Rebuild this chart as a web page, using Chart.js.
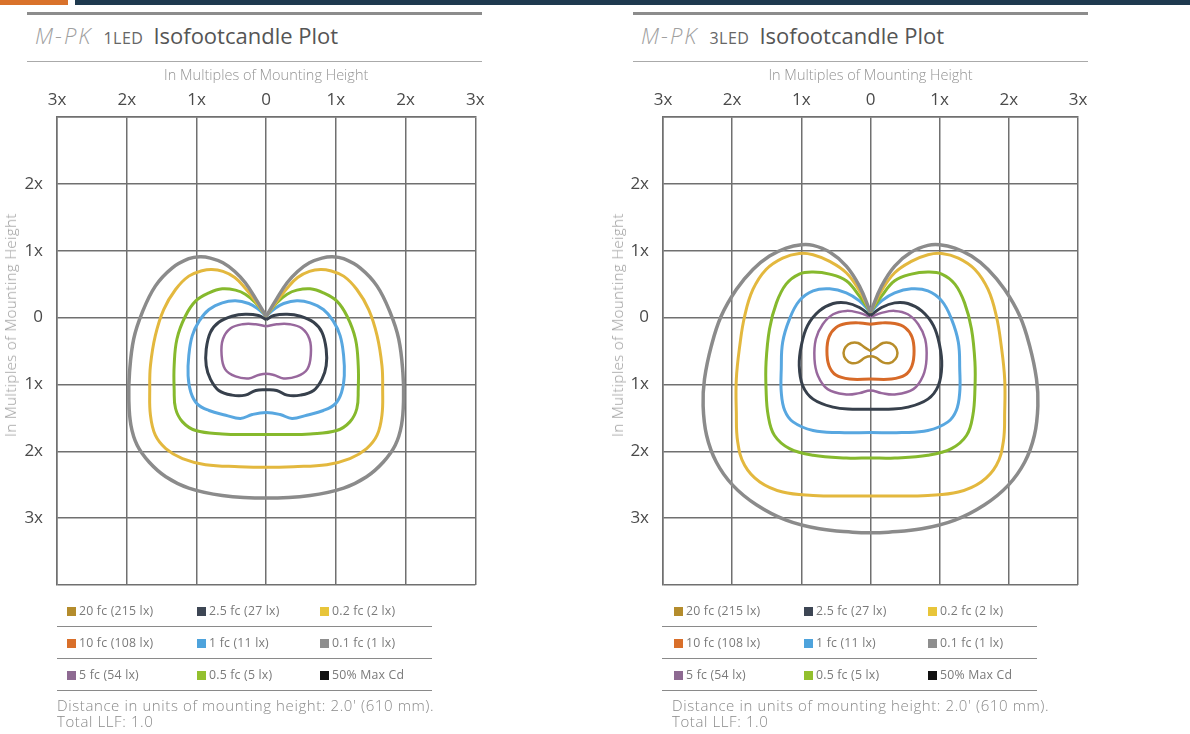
<!DOCTYPE html>
<html>
<head>
<meta charset="utf-8">
<script src="https://cdn.jsdelivr.net/npm/chart.js@4.4.1/dist/chart.umd.min.js"></script>
<style>
  body { margin: 0; background: #fff; font-family: "Open Sans", sans-serif; }
  #page { position: relative; width: 1190px; height: 734px; overflow: hidden; }
  .bar { position: absolute; top: 0; height: 5px; }
  .hline { position: absolute; background: #8c8c8c; }
  .title { position: absolute; top: 20px; font-size: 22px; color: #555; white-space: nowrap; }
  .title .mpk { font-style: italic; color: #a0a0a0; font-weight: 300; letter-spacing: 2px; }
  .title .led { font-size: 16px; color: #666; margin: 0 10px 0 11px; letter-spacing: 0.5px; }
  .box { position: absolute; top: 60px; width: 490px; height: 540px; }
  .ytitle { position: absolute; font-size: 15px; color: #9a9a9a; white-space: nowrap; font-weight: 300;
            letter-spacing: 0.4px; transform: translate(-50%, -50%) rotate(-90deg); }
  .legend { position: absolute; top: 595px; width: 375px; font-size: 12.3px; color: #7a7a7a; letter-spacing: 0.2px; }
  .row { height: 31px; border-bottom: 1px solid #8a8a8a; position: relative; }
  .item { position: absolute; top: 0; line-height: 31px; white-space: nowrap; }
  .sw { display: inline-block; width: 9px; height: 9px; margin-right: 3px; vertical-align: -1px; }
  .note { position: absolute; top: 697px; font-size: 15px; color: #8a8a8a; line-height: 16px;
          letter-spacing: 0.6px; font-weight: 300; }
</style>
</head>
<body>
<div id="page">
  <div class="bar" style="left:0;width:68px;background:#d9722b"></div>
  <div class="bar" style="left:75px;width:1115px;background:#1f3a4f"></div>

  <div class="hline" style="left:27px;top:12px;width:455px;height:3px"></div>
  <div class="hline" style="left:27px;top:61px;width:455px;height:1px;background:#aaa"></div>
  <div class="hline" style="left:633px;top:12px;width:455px;height:3px"></div>
  <div class="hline" style="left:633px;top:61px;width:455px;height:1px;background:#aaa"></div>

  <div class="title" style="left:35px"><span class="mpk">M-PK</span><span class="led">1LED</span>Isofootcandle Plot</div>
  <div class="title" style="left:641px"><span class="mpk">M-PK</span><span class="led">3LED</span>Isofootcandle Plot</div>

  <div class="box" style="left:0"><canvas id="chart1"></canvas></div>
  <div class="box" style="left:606px"><canvas id="chart3"></canvas></div>

  <div class="ytitle" style="left:10px;top:325px">In Multiples of Mounting Height</div>
  <div class="ytitle" style="left:617px;top:325px">In Multiples of Mounting Height</div>

  <div class="legend" id="legend1" style="left:57px"></div>
  <div class="legend" id="legend3" style="left:662px"></div>

  <div class="note" style="left:57px">Distance in units of mounting height: 2.0' (610 mm).<br>Total LLF: 1.0</div>
  <div class="note" style="left:672px">Distance in units of mounting height: 2.0' (610 mm).<br>Total LLF: 1.0</div>
</div>

<script>
// tick labels
const xTicks = ['3x', '2x', '1x', '0', '1x', '2x', '3x'];          // -3 .. 3
const yTicks = ['', '3x', '2x', '1x', '0', '1x', '2x', ''];        // -4 .. 3

// legend entries (row by row)
const legendLabels = ['20 fc (215 lx)', '2.5 fc (27 lx)', '0.2 fc (2 lx)',
                      '10 fc (108 lx)', '1 fc (11 lx)', '0.1 fc (1 lx)',
                      '5 fc (54 lx)', '0.5 fc (5 lx)', '50% Max Cd'];
const legendColors = ['#b48c2c', '#3d4654', '#e8c53a',
                      '#d96f2a', '#4ea3dc', '#8e8e8e',
                      '#8e6a92', '#93c02e', '#111111'];

// contour right halves [x, y], from top centre down to bottom centre (mounting heights)
// M-PK 1LED
const led1_01 = [[0,0.02],[0.15,0.28],[0.30,0.52],[0.45,0.69],[0.62,0.82],[0.80,0.89],[0.95,0.91],[1.11,0.88],[1.35,0.74],[1.59,0.47],[1.78,0.07],[1.90,-0.32],[1.96,-0.82],[1.97,-1.22],[1.94,-1.61],[1.85,-1.91],[1.68,-2.16],[1.44,-2.38],[1.11,-2.55],[0.63,-2.66],[0,-2.70]];
const led1_02 = [[0,0.02],[0.15,0.24],[0.30,0.44],[0.45,0.60],[0.62,0.69],[0.78,0.72],[0.92,0.70],[1.11,0.62],[1.30,0.42],[1.47,0.12],[1.59,-0.27],[1.66,-0.72],[1.67,-1.07],[1.66,-1.46],[1.59,-1.76],[1.44,-1.96],[1.20,-2.11],[0.87,-2.20],[0.39,-2.23],[0,-2.24]];
const led1_05 = [[0,0.02],[0.15,0.22],[0.30,0.35],[0.44,0.41],[0.63,0.43],[0.82,0.37],[1.01,0.25],[1.16,0.02],[1.28,-0.32],[1.32,-0.72],[1.32,-1.07],[1.30,-1.36],[1.20,-1.56],[1.01,-1.69],[0.63,-1.74],[0.25,-1.75],[0,-1.75]];
const led1_1  = [[0,0.02],[0.13,0.14],[0.25,0.21],[0.44,0.25],[0.63,0.22],[0.82,0.12],[0.96,-0.05],[1.06,-0.27],[1.11,-0.57],[1.12,-0.87],[1.08,-1.12],[0.99,-1.29],[0.82,-1.39],[0.58,-1.46],[0.37,-1.51],[0.20,-1.45],[0,-1.42]];
const led1_25 = [[0,-0.03],[0.11,0.03],[0.30,0.05],[0.49,0.02],[0.68,-0.07],[0.80,-0.22],[0.86,-0.47],[0.86,-0.72],[0.80,-0.92],[0.68,-1.09],[0.49,-1.16],[0.30,-1.16],[0.15,-1.09],[0,-1.08]];
const led1_5  = [[0,-0.13],[0.15,-0.10],[0.34,-0.10],[0.51,-0.16],[0.62,-0.32],[0.64,-0.55],[0.59,-0.77],[0.44,-0.88],[0.25,-0.91],[0.11,-0.86],[0,-0.84]];

// M-PK 3LED
const led3_01 = [[0,0.08],[0.16,0.47],[0.35,0.77],[0.59,0.98],[0.83,1.08],[1.00,1.09],[1.22,1.04],[1.46,0.92],[1.70,0.72],[1.94,0.42],[2.16,0.02],[2.30,-0.42],[2.40,-0.92],[2.42,-1.32],[2.37,-1.76],[2.23,-2.16],[1.99,-2.51],[1.65,-2.80],[1.22,-3.03],[0.74,-3.16],[0.26,-3.21],[0,-3.22]];
const led3_02 = [[0,0.08],[0.16,0.40],[0.35,0.67],[0.59,0.84],[0.83,0.94],[1.03,0.96],[1.27,0.89],[1.51,0.72],[1.70,0.42],[1.82,0.02],[1.89,-0.42],[1.94,-0.92],[1.94,-1.41],[1.92,-1.86],[1.82,-2.21],[1.60,-2.46],[1.27,-2.61],[0.83,-2.66],[0.35,-2.67],[0,-2.67]];
const led3_05 = [[0,0.08],[0.16,0.32],[0.35,0.55],[0.59,0.65],[0.83,0.68],[1.03,0.65],[1.22,0.50],[1.36,0.22],[1.46,-0.17],[1.51,-0.67],[1.51,-1.07],[1.48,-1.46],[1.39,-1.76],[1.17,-1.96],[0.83,-2.06],[0.35,-2.10],[0,-2.10]];
const led3_1  = [[0,0.08],[0.16,0.25],[0.35,0.37],[0.59,0.43],[0.83,0.40],[1.03,0.25],[1.17,-0.02],[1.27,-0.37],[1.29,-0.77],[1.29,-1.12],[1.24,-1.39],[1.12,-1.56],[0.83,-1.69],[0.45,-1.72],[0,-1.72]];
const led3_25 = [[0,0.03],[0.16,0.15],[0.35,0.22],[0.54,0.21],[0.74,0.10],[0.91,-0.12],[1.00,-0.42],[1.03,-0.72],[0.98,-1.02],[0.83,-1.22],[0.54,-1.34],[0.26,-1.37],[0,-1.37]];
const led3_5  = [[0,0.01],[0.16,0.07],[0.35,0.10],[0.54,0.05],[0.69,-0.10],[0.79,-0.32],[0.81,-0.62],[0.76,-0.87],[0.62,-1.07],[0.35,-1.15],[0.16,-1.13],[0,-1.09]];
const led3_10 = [[0,-0.10],[0.15,-0.08],[0.35,-0.09],[0.50,-0.15],[0.60,-0.29],[0.63,-0.50],[0.60,-0.72],[0.50,-0.86],[0.30,-0.92],[0,-0.92]];
const led3_20 = [[0,-0.50],[0.08,-0.45],[0.18,-0.38],[0.28,-0.38],[0.36,-0.44],[0.39,-0.53],[0.36,-0.62],[0.28,-0.68],[0.18,-0.67],[0.08,-0.60],[0,-0.58]];

const curveColors = {
    '0.1': '#8b8b8b', '0.2': '#e3b83e', '0.5': '#86b92d', '1': '#58a7e0',
    '2.5': '#37404c', '5': '#98689d', '10': '#d76a28', '20': '#b88d2a'
};

// right half + mirrored left half, back to the start point
function closeContour(half) {
    const right = half.map(([x, y]) => ({ x: x, y: y }));
    const left = half.slice(0, -1).reverse().map(([x, y]) => ({ x: -x, y: y }));
    return right.concat(left);
}

function contour(half, key, width) {
    return {
        data: closeContour(half),
        showLine: true,
        borderColor: curveColors[key],
        borderWidth: width || 3,
        pointRadius: 0,
        tension: 0.4,
        fill: false
    };
}

function makeChart(id, datasets, padRight) {
    new Chart(document.getElementById(id), {
        type: 'scatter',
        data: { datasets: datasets },
        options: {
            responsive: true,
            maintainAspectRatio: false,
            animation: false,
            layout: { padding: { top: 0, left: 0, right: padRight, bottom: 15 } },
            plugins: { legend: { display: false }, tooltip: { enabled: false } },
            scales: {
                x: {
                    type: 'linear', position: 'top', min: -3, max: 3,
                    afterFit: s => { s.height = 57; s.paddingLeft = 0; s.paddingRight = 0; },
                    ticks: {
                        stepSize: 1, padding: 7, color: '#4a4a4a',
                        font: { family: 'Open Sans', size: 17 },
                        callback: v => xTicks[v + 3]
                    },
                    grid: { color: '#707070', lineWidth: 1.5, drawTicks: false },
                    border: { color: '#707070', width: 1.5 },
                    title: {
                        display: true, text: 'In Multiples of Mounting Height',
                        color: '#949494', font: { family: 'Open Sans', size: 14.5, weight: 300 },
                        padding: { top: 7, bottom: 0 }
                    }
                },
                y: {
                    type: 'linear', min: -4, max: 3,
                    afterFit: s => { s.width = 57; s.paddingTop = 0; s.paddingBottom = 0; },
                    ticks: {
                        stepSize: 1, padding: 14, color: '#4a4a4a',
                        font: { family: 'Open Sans', size: 17 },
                        callback: v => yTicks[v + 4]
                    },
                    grid: { color: '#707070', lineWidth: 1.5, drawTicks: false },
                    border: { color: '#707070', width: 1.5 }
                }
            }
        }
    });
}

makeChart('chart1', [
    contour(led1_01, '0.1', 3.5),
    contour(led1_02, '0.2'),
    contour(led1_05, '0.5'),
    contour(led1_1, '1'),
    contour(led1_25, '2.5'),
    contour(led1_5, '5', 2.5)
], 14.6);

makeChart('chart3', [
    contour(led3_01, '0.1', 3.5),
    contour(led3_02, '0.2'),
    contour(led3_05, '0.5'),
    contour(led3_1, '1'),
    contour(led3_25, '2.5'),
    contour(led3_5, '5', 2.5),
    contour(led3_10, '10'),
    contour(led3_20, '20', 2.5)
], 18);

// legends
function buildLegend(id, colOffsets) {
    const el = document.getElementById(id);
    for (let r = 0; r < 3; r++) {
        const row = document.createElement('div');
        row.className = 'row';
        for (let c = 0; c < 3; c++) {
            const i = r * 3 + c;
            const item = document.createElement('div');
            item.className = 'item';
            item.style.left = colOffsets[c] + 'px';
            item.innerHTML = '<span class="sw" style="background:' + legendColors[i] + '"></span>' + legendLabels[i];
            row.appendChild(item);
        }
        el.appendChild(row);
    }
}
buildLegend('legend1', [10, 140, 263]);
buildLegend('legend3', [12, 142, 266]);
</script>
</body>
</html>
